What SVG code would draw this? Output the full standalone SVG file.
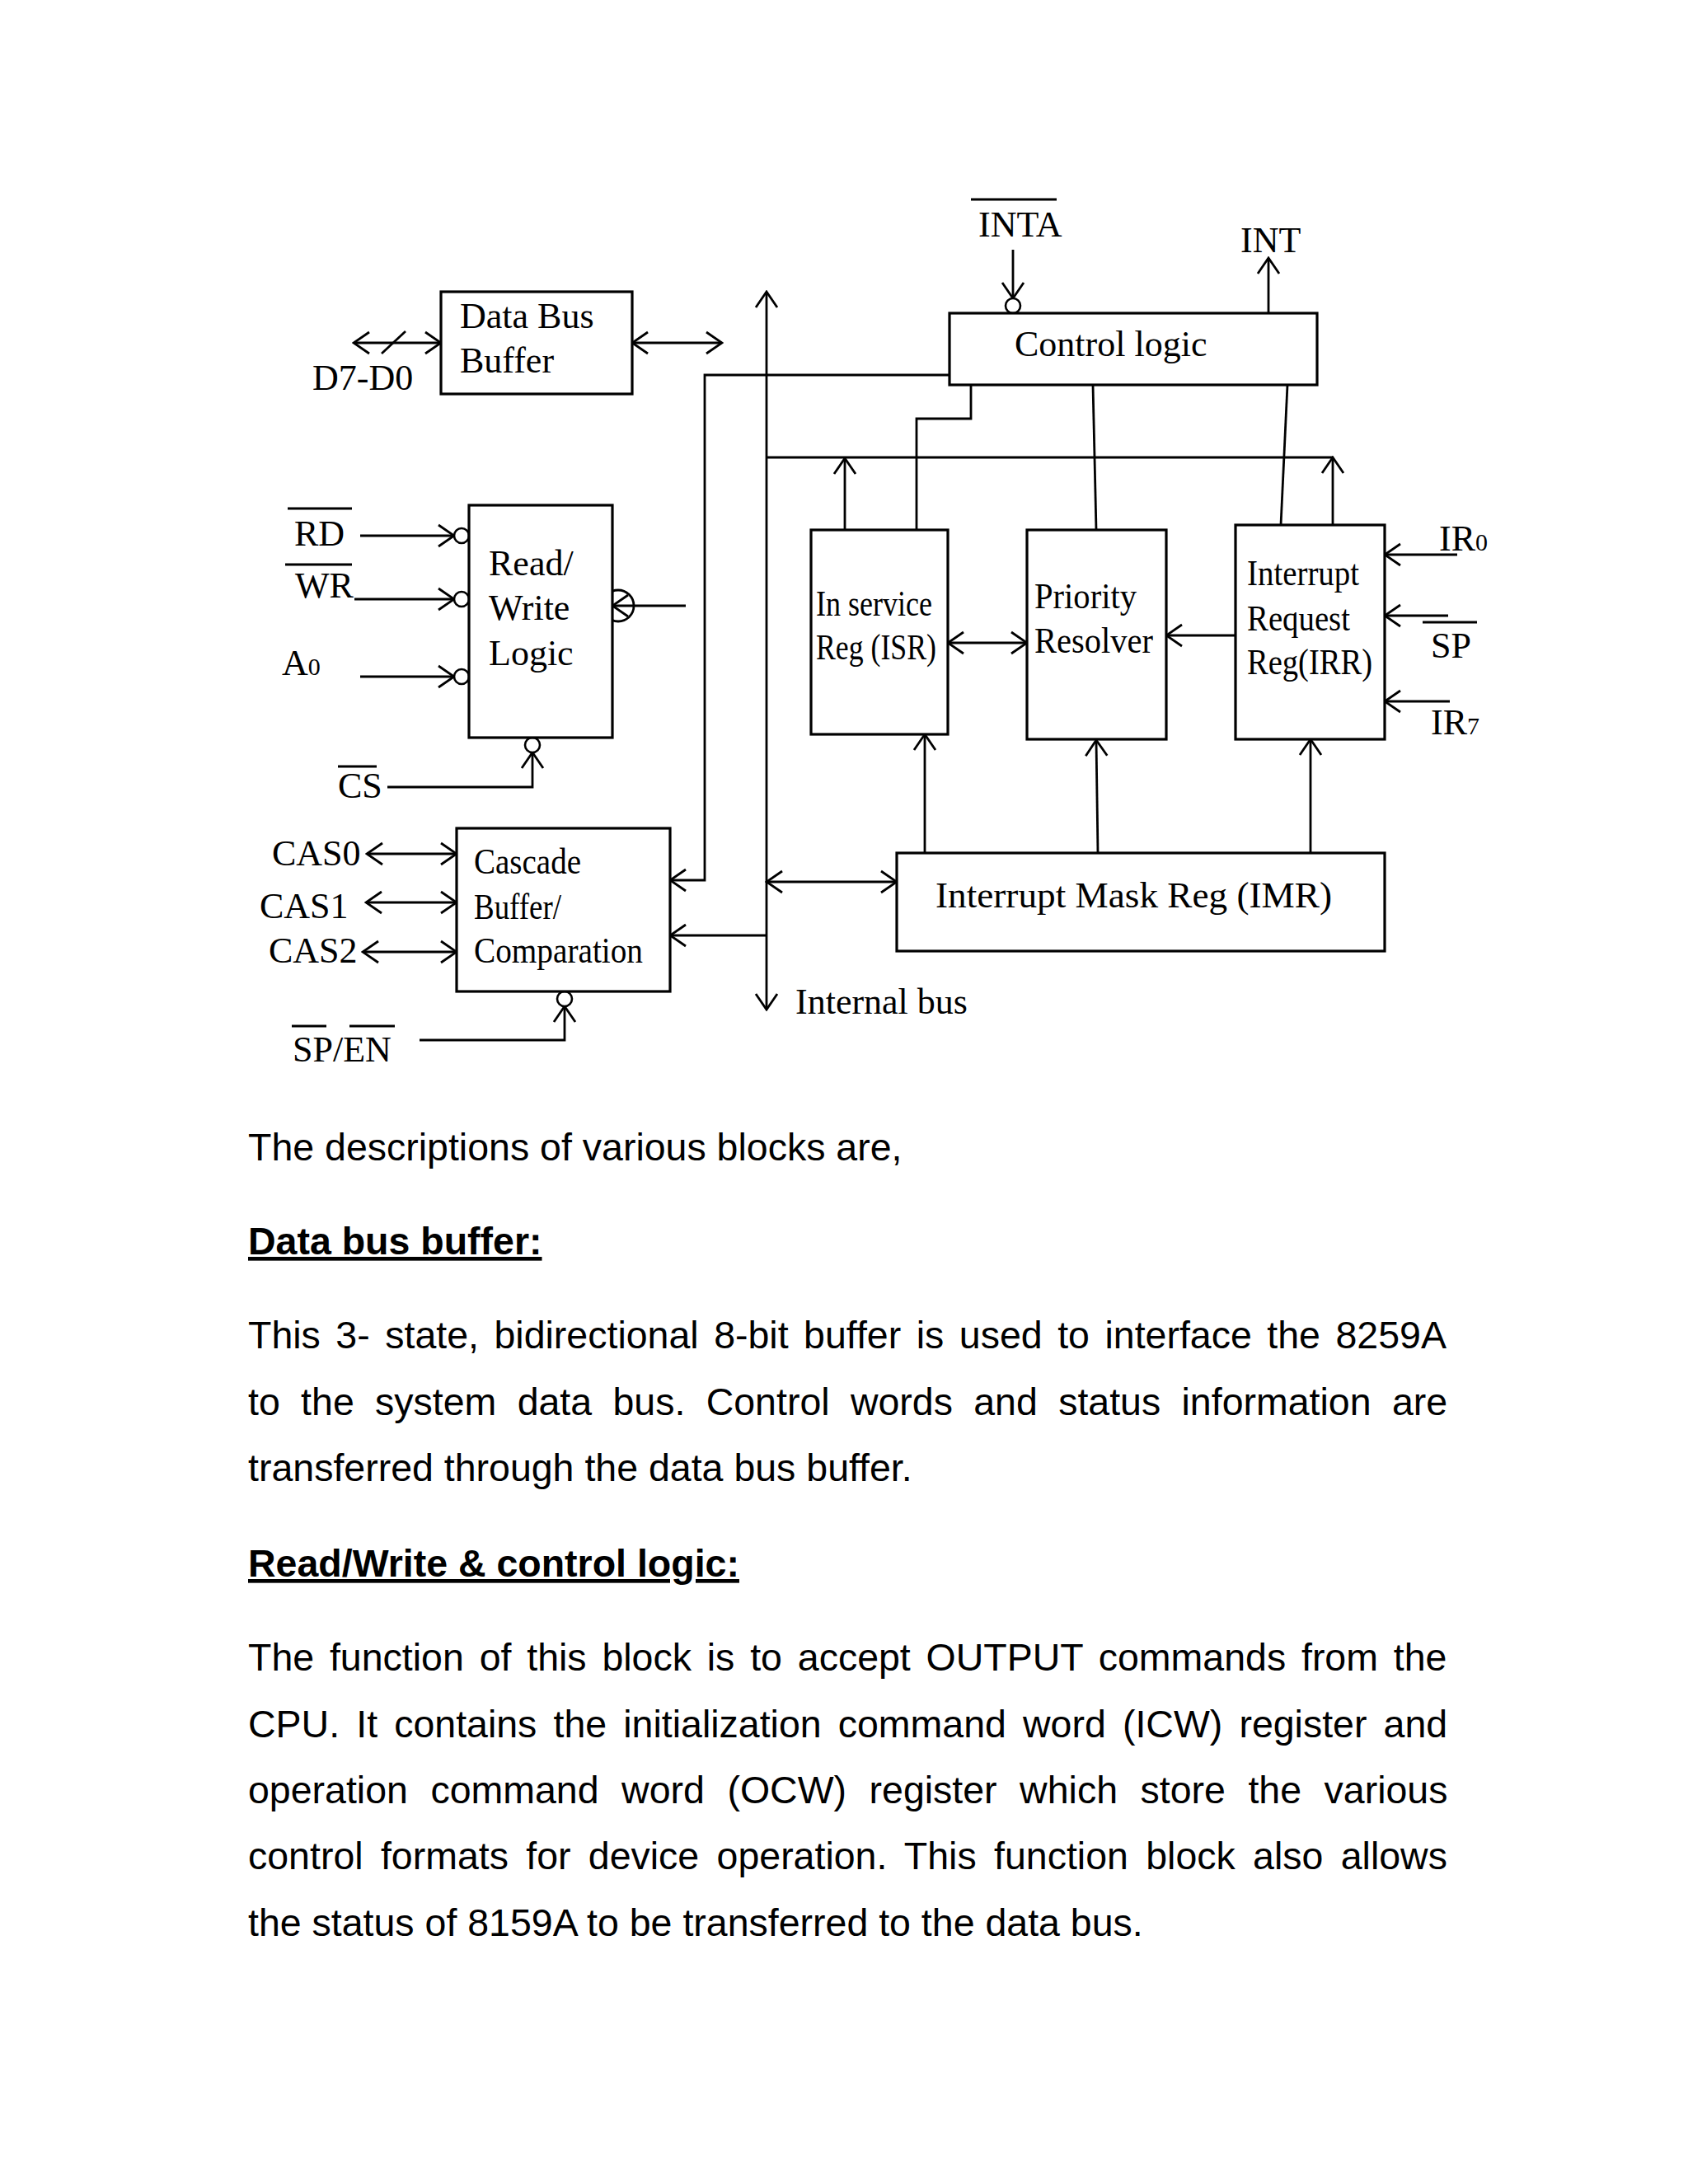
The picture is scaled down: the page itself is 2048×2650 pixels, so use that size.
<svg xmlns="http://www.w3.org/2000/svg" width="2048" height="2650" viewBox="0 0 2048 2650">
<style>
.box{fill:#fff;stroke:#000;stroke-width:3.2}
.ln{fill:none;stroke:#000;stroke-width:2.8}
.bub{fill:#fff;stroke:#000;stroke-width:2.6}
.lbl{font-family:"Liberation Serif","Times New Roman",serif;font-size:44px;fill:#000}
.sub{font-size:30px}
.ov{stroke:#000;stroke-width:3}
.para{font-family:"Liberation Sans",Arial,sans-serif;font-size:46.5px;fill:#000}
.head{font-family:"Liberation Sans",Arial,sans-serif;font-size:46.5px;font-weight:bold;fill:#000;text-decoration:underline}
</style>
<defs>
<marker id="ah" viewBox="-22 -15 24 30" refX="0" refY="0" markerWidth="24" markerHeight="30" markerUnits="userSpaceOnUse" orient="auto-start-reverse">
<path d="M-19,-13 L0,0 L-19,13" fill="none" stroke="#000" stroke-width="2.8"/>
</marker>
</defs>
<rect width="2048" height="2650" fill="#fff"/>

<g id="connectors">
<line class="ln" x1="429" y1="416" x2="535" y2="416" marker-start="url(#ah)" marker-end="url(#ah)"/>
<line class="ln" x1="463" y1="429" x2="492" y2="402"/>
<line class="ln" x1="767" y1="416" x2="876" y2="416" marker-start="url(#ah)" marker-end="url(#ah)"/>
<line class="ln" x1="930" y1="1225" x2="930" y2="354" marker-start="url(#ah)" marker-end="url(#ah)"/>
<line class="ln" x1="930" y1="555" x2="1617" y2="555"/>
<polyline class="ln" points="1152,455 855,455 855,1068 813,1068" marker-end="url(#ah)"/>
<polyline class="ln" points="1178,467 1178,508 1112,508 1112,643"/>
<line class="ln" x1="1326" y1="467" x2="1330" y2="643"/>
<line class="ln" x1="1562" y1="467" x2="1554" y2="637"/>
<line class="ln" x1="1025" y1="643" x2="1025" y2="556" marker-end="url(#ah)"/>
<line class="ln" x1="1617" y1="637" x2="1617" y2="555" marker-end="url(#ah)"/>
<line class="ln" x1="1229" y1="303" x2="1229" y2="362" marker-end="url(#ah)"/>
<circle class="bub" cx="1229" cy="371" r="9"/>
<line class="ln" x1="1539" y1="380" x2="1539" y2="313" marker-end="url(#ah)"/>
<line class="ln" x1="437" y1="650" x2="551" y2="650" marker-end="url(#ah)"/>
<circle class="bub" cx="560" cy="650" r="9"/>
<line class="ln" x1="430" y1="727" x2="551" y2="727" marker-end="url(#ah)"/>
<circle class="bub" cx="560" cy="727" r="9"/>
<line class="ln" x1="437" y1="821" x2="551" y2="821" marker-end="url(#ah)"/>
<circle class="bub" cx="560" cy="821" r="9"/>
<line class="ln" x1="832" y1="735" x2="743" y2="735" marker-end="url(#ah)"/>
<circle cx="750" cy="735" r="19" fill="none" stroke="#000" stroke-width="2.8"/>
<polyline class="ln" points="470,955 646,955 646,913" marker-end="url(#ah)"/>
<circle class="bub" cx="646" cy="904" r="9"/>
<line class="ln" x1="445" y1="1036" x2="554" y2="1036" marker-start="url(#ah)" marker-end="url(#ah)"/>
<line class="ln" x1="444" y1="1095" x2="554" y2="1095" marker-start="url(#ah)" marker-end="url(#ah)"/>
<line class="ln" x1="440" y1="1155" x2="554" y2="1155" marker-start="url(#ah)" marker-end="url(#ah)"/>
<line class="ln" x1="930" y1="1135" x2="813" y2="1135" marker-end="url(#ah)"/>
<polyline class="ln" points="509,1262 685,1262 685,1221" marker-end="url(#ah)"/>
<circle class="bub" cx="685" cy="1212" r="9"/>
<line class="ln" x1="1150" y1="780" x2="1246" y2="780" marker-start="url(#ah)" marker-end="url(#ah)"/>
<line class="ln" x1="1499" y1="771" x2="1415" y2="771" marker-end="url(#ah)"/>
<line class="ln" x1="1768" y1="673" x2="1680" y2="673" marker-end="url(#ah)"/>
<line class="ln" x1="1757" y1="747" x2="1680" y2="747" marker-end="url(#ah)"/>
<line class="ln" x1="1759" y1="851" x2="1680" y2="851" marker-end="url(#ah)"/>
<line class="ln" x1="930" y1="1070" x2="1088" y2="1070" marker-start="url(#ah)" marker-end="url(#ah)"/>
<line class="ln" x1="1122" y1="1035" x2="1122" y2="891" marker-end="url(#ah)"/>
<line class="ln" x1="1332" y1="1035" x2="1330" y2="898" marker-end="url(#ah)"/>
<line class="ln" x1="1590" y1="1035" x2="1590" y2="897" marker-end="url(#ah)"/>
</g>

<g id="dbb">
<rect class="box" x="535" y="354" width="232" height="124"/>
<text class="lbl" x="558" y="398">Data Bus</text>
<text class="lbl" x="558" y="452">Buffer</text>
</g>
<g id="control">
<rect class="box" x="1152" y="380" width="446" height="87"/>
<text class="lbl" x="1231" y="432">Control logic</text>
</g>
<g id="rwlogic">
<rect class="box" x="569" y="613" width="174" height="282"/>
<text class="lbl" x="593" y="698">Read/</text>
<text class="lbl" x="593" y="752">Write</text>
<text class="lbl" x="593" y="807">Logic</text>
</g>
<g id="cascade">
<rect class="box" x="554" y="1005" width="259" height="198"/>
<text class="lbl" x="575" y="1060" textLength="130" lengthAdjust="spacingAndGlyphs">Cascade</text>
<text class="lbl" x="575" y="1115" textLength="106" lengthAdjust="spacingAndGlyphs">Buffer/</text>
<text class="lbl" x="575" y="1168" textLength="205" lengthAdjust="spacingAndGlyphs">Comparation</text>
</g>
<g id="isr">
<rect class="box" x="984" y="643" width="166" height="248"/>
<text class="lbl" x="990" y="747" textLength="141" lengthAdjust="spacingAndGlyphs">In service</text>
<text class="lbl" x="990" y="800" textLength="146" lengthAdjust="spacingAndGlyphs">Reg (ISR)</text>
</g>
<g id="pr">
<rect class="box" x="1246" y="643" width="169" height="254"/>
<text class="lbl" x="1255" y="738" textLength="124" lengthAdjust="spacingAndGlyphs">Priority</text>
<text class="lbl" x="1255" y="792" textLength="144" lengthAdjust="spacingAndGlyphs">Resolver</text>
</g>
<g id="irr">
<rect class="box" x="1499" y="637" width="181" height="260"/>
<text class="lbl" x="1513" y="710" textLength="136" lengthAdjust="spacingAndGlyphs">Interrupt</text>
<text class="lbl" x="1513" y="765" textLength="125" lengthAdjust="spacingAndGlyphs">Request</text>
<text class="lbl" x="1513" y="818" textLength="152" lengthAdjust="spacingAndGlyphs">Reg(IRR)</text>
</g>
<g id="imr">
<rect class="box" x="1088" y="1035" width="592" height="119"/>
<text class="lbl" x="1135" y="1101" textLength="481" lengthAdjust="spacingAndGlyphs">Interrupt Mask Reg (IMR)</text>
</g>

<g id="signals">
<text class="lbl" x="379" y="473">D7-D0</text>
<line class="ov" x1="1178" y1="242" x2="1282" y2="242"/>
<text class="lbl" x="1187" y="287">INTA</text>
<text class="lbl" x="1505" y="306">INT</text>
<line class="ov" x1="349" y1="617" x2="427" y2="617"/>
<text class="lbl" x="357" y="662">RD</text>
<line class="ov" x1="346" y1="685" x2="427" y2="685"/>
<text class="lbl" x="358" y="725">WR</text>
<text class="lbl" x="342" y="819">A<tspan class="sub">0</tspan></text>
<line class="ov" x1="410" y1="930" x2="457" y2="930"/>
<text class="lbl" x="410" y="968">CS</text>
<text class="lbl" x="330" y="1050">CAS0</text>
<text class="lbl" x="315" y="1114">CAS1</text>
<text class="lbl" x="326" y="1168">CAS2</text>
<line class="ov" x1="354" y1="1245" x2="396" y2="1245"/>
<line class="ov" x1="424" y1="1245" x2="479" y2="1245"/>
<text class="lbl" x="355" y="1288">SP/EN</text>
<text class="lbl" x="1746" y="668">IR<tspan class="sub">0</tspan></text>
<line class="ov" x1="1726" y1="755" x2="1792" y2="755"/>
<text class="lbl" x="1736" y="798">SP</text>
<text class="lbl" x="1736" y="891">IR<tspan class="sub">7</tspan></text>
<text class="lbl" x="965" y="1230">Internal bus</text>
</g>

<g id="description">
<text class="para" x="301" y="1408">The descriptions of various blocks are,</text>
<text class="head" x="301" y="1522">Data bus buffer:</text>
<text class="para" x="301" y="1636" word-spacing="5.6">This 3- state, bidirectional 8-bit buffer is used to interface the 8259A</text>
<text class="para" x="301" y="1717" word-spacing="12.4">to the system data bus. Control words and status information are</text>
<text class="para" x="301" y="1797">transferred through the data bus buffer.</text>
<text class="head" x="301" y="1913">Read/Write &amp; control logic:</text>
<text class="para" x="301" y="2027" word-spacing="5.9">The function of this block is to accept OUTPUT commands from the</text>
<text class="para" x="301" y="2108" word-spacing="7.2">CPU. It contains the initialization command word (ICW) register and</text>
<text class="para" x="301" y="2188" word-spacing="14.6">operation command word (OCW) register which store the various</text>
<text class="para" x="301" y="2268" word-spacing="8.4">control formats for device operation. This function block also allows</text>
<text class="para" x="301" y="2349">the status of 8159A to be transferred to the data bus.</text>
</g>
</svg>
